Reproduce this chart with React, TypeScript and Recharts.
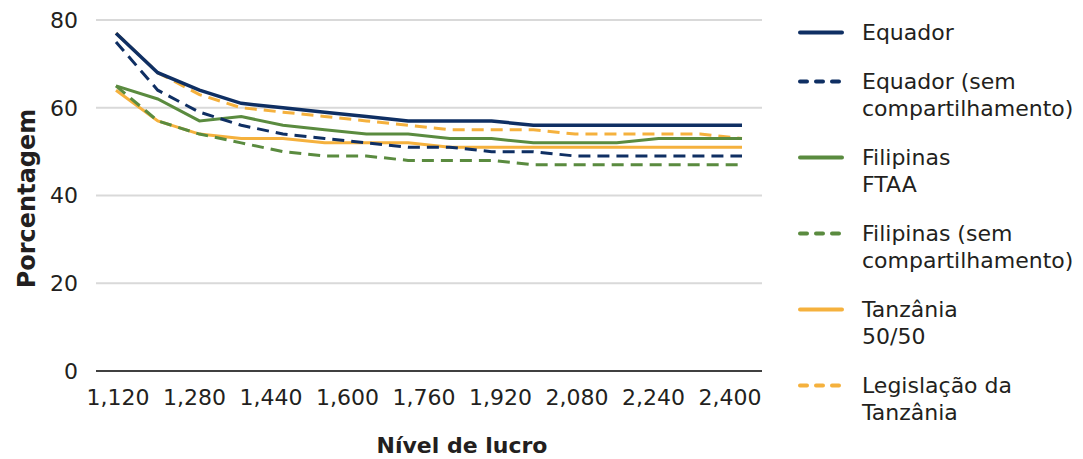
import { CartesianGrid, Label, Line, LineChart, XAxis, YAxis } from "recharts";

// níveis de lucro simulados (16 pontos) e os rótulos mostrados no eixo
const niveis = [1120, 1205, 1291, 1376, 1461, 1547, 1632, 1717, 1803, 1888, 1973, 2059, 2144, 2229, 2315, 2400];
const rotulosX = [1120, 1280, 1440, 1600, 1760, 1920, 2080, 2240, 2400];
const ticksY = [0, 20, 40, 60, 80];

const equador = [77, 68, 64, 61, 60, 59, 58, 57, 57, 57, 56, 56, 56, 56, 56, 56];
const equadorSem = [75, 64, 59, 56, 54, 53, 52, 51, 51, 50, 50, 49, 49, 49, 49, 49];
const filipinas = [65, 62, 57, 58, 56, 55, 54, 54, 53, 53, 52, 52, 52, 53, 53, 53];
const filipinasSem = [65, 57, 54, 52, 50, 49, 49, 48, 48, 48, 47, 47, 47, 47, 47, 47];
const tanzania = [64, 57, 54, 53, 53, 52, 52, 52, 51, 51, 51, 51, 51, 51, 51, 51];
const legislacao = [77, 68, 63, 60, 59, 58, 57, 56, 55, 55, 55, 54, 54, 54, 54, 53];

const AZUL = "#0f2f63";
const VERDE = "#5a8b3f";
const LARANJA = "#f5b13d";
const TEXTO = "#231f20";
const FONTE = "'DejaVu Sans', sans-serif";

const data = niveis.map((nivel, i) => ({
  nivel,
  equador: equador[i],
  equadorSem: equadorSem[i],
  filipinas: filipinas[i],
  filipinasSem: filipinasSem[i],
  tanzania: tanzania[i],
  legislacao: legislacao[i],
}));

// ordem da legenda
const series = [
  { key: "equador", label: "Equador", color: AZUL, dashed: false },
  { key: "equadorSem", label: "Equador (sem\ncompartilhamento)", color: AZUL, dashed: true },
  { key: "filipinas", label: "Filipinas\nFTAA", color: VERDE, dashed: false },
  { key: "filipinasSem", label: "Filipinas (sem\ncompartilhamento)", color: VERDE, dashed: true },
  { key: "tanzania", label: "Tanzânia\n50/50", color: LARANJA, dashed: false },
  { key: "legislacao", label: "Legislação da\nTanzânia", color: LARANJA, dashed: true },
];

// ordem de desenho: o azul fica por cima
const ordemDesenho = ["legislacao", "tanzania", "filipinasSem", "filipinas", "equadorSem", "equador"];

const W = 1067;
const H = 451;

function Legenda() {
  return (
    <div
      style={{
        position: "absolute",
        left: 790,
        top: 11,
        fontFamily: FONTE,
        fontSize: 22,
        lineHeight: "27px",
        color: TEXTO,
      }}
    >
      {series.map((s) => (
        <div key={s.key} style={{ display: "flex", alignItems: "flex-start", marginBottom: 22 }}>
          <svg width={46} height={27} style={{ flex: "none" }}>
            <line
              x1={2}
              x2={44}
              y1={13.5}
              y2={13.5}
              stroke={s.color}
              strokeWidth={4}
              strokeLinecap="round"
              strokeDasharray={s.dashed ? "7 9" : undefined}
            />
          </svg>
          <div style={{ marginLeft: 18, whiteSpace: "pre-line" }}>{s.label}</div>
        </div>
      ))}
    </div>
  );
}

export default function App() {
  return (
    <div style={{ position: "relative", width: W, height: H }}>
      <LineChart width={W} height={H} data={data} margin={{ top: 12, right: 313, left: 0, bottom: 0 }}>
        <CartesianGrid xAxisId="dados" vertical={false} stroke="#d9d9d9" strokeWidth={2} />
        <XAxis
          xAxisId="dados"
          dataKey="nivel"
          type="category"
          hide
          height={0}
          padding={{ left: 20, right: 20 }}
        />
        <XAxis
          xAxisId="rotulos"
          dataKey="nivel"
          type="number"
          domain={[1074, 2467]}
          allowDataOverflow
          ticks={rotulosX}
          interval={0}
          tickFormatter={(v: number) => v.toLocaleString("en-US")}
          tick={{ fontSize: 22, fill: TEXTO, fontFamily: FONTE }}
          axisLine={{ stroke: "#404040", strokeWidth: 2 }}
          tickLine={false}
          tickSize={6}
          tickMargin={12}
          height={88}
        >
          <Label
            content={({ viewBox }: any) => (
              <text
                x={viewBox.x + viewBox.width / 2 + 33}
                y={viewBox.y + 82}
                textAnchor="middle"
                fontFamily={FONTE}
                fontSize={22}
                fontWeight="bold"
                fill={TEXTO}
              >
                Nível de lucro
              </text>
            )}
          />
        </XAxis>
        <YAxis
          domain={[0, 80]}
          ticks={ticksY}
          interval={0}
          axisLine={false}
          tickLine={false}
          tickSize={6}
          tickMargin={12}
          width={88}
          tick={{ fontSize: 22, fill: TEXTO, fontFamily: FONTE }}
        >
          <Label
            content={({ viewBox }: any) => {
              const x = viewBox.x + 27;
              const y = viewBox.y + viewBox.height / 2 + 3;
              return (
                <text
                  x={x}
                  y={y}
                  transform={`rotate(-90 ${x} ${y})`}
                  textAnchor="middle"
                  fontFamily={FONTE}
                  fontSize={24}
                  fontWeight="bold"
                  fill={TEXTO}
                >
                  Porcentagem
                </text>
              );
            }}
          />
        </YAxis>
        {ordemDesenho.map((k) => {
          const s = series.find((x) => x.key === k)!;
          return (
            <Line
              key={k}
              xAxisId="dados"
              type="linear"
              dataKey={k}
              stroke={s.color}
              strokeWidth={s.key === "equador" ? 3.5 : 3}
              strokeDasharray={s.dashed ? "12 7" : undefined}
              dot={false}
              activeDot={false}
              isAnimationActive={false}
            />
          );
        })}
      </LineChart>
      <Legenda />
    </div>
  );
}
